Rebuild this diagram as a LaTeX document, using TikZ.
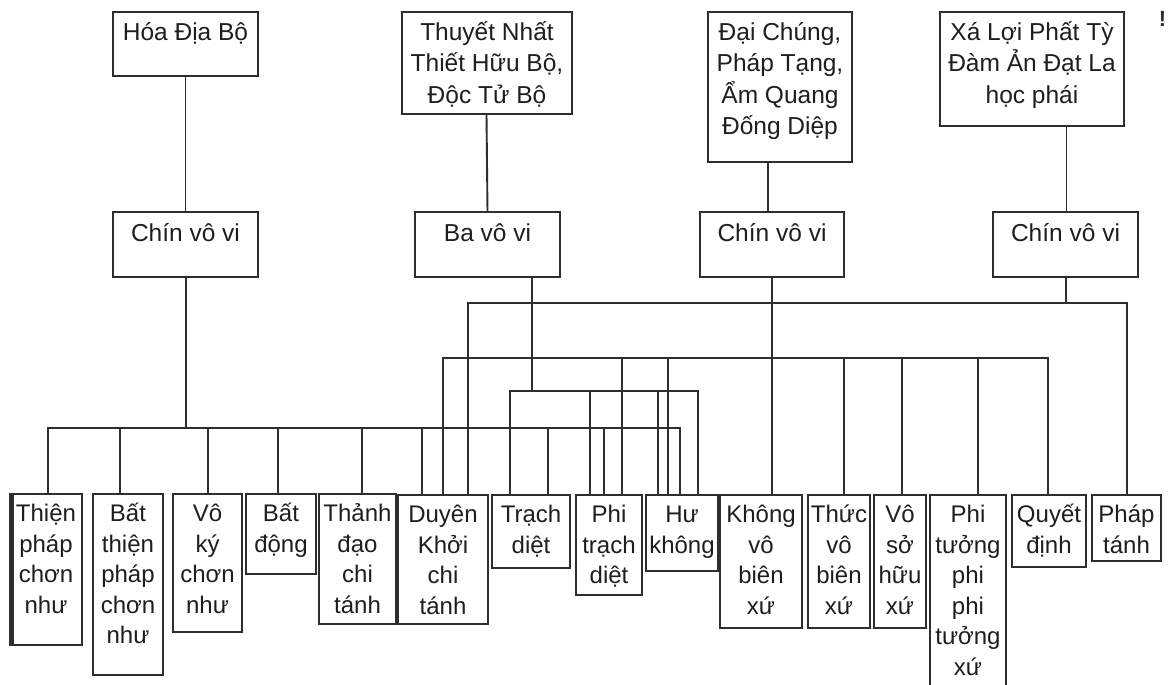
\documentclass[tikz,border=0pt]{standalone}
\usepackage{fontspec}
\setmainfont{Liberation Sans}
\definecolor{ln}{HTML}{2E2E2E}
\definecolor{tx}{HTML}{1E1E1E}
\newcommand\topfnt{\fontsize{24.5}{31.5}\selectfont}
\newcommand\botfnt{\fontsize{24}{30.5}\selectfont}
\begin{document}
\begin{tikzpicture}[x=1pt,y=-1pt,
  box/.style={draw=ln, line width=1.9pt, inner sep=0pt, outer sep=0pt, anchor=north west},
  ttxt/.style={anchor=north, align=center, inner sep=0pt, text=tx, font=\topfnt},
  btxt/.style={anchor=north, align=center, inner sep=0pt, text=tx, font=\botfnt},
  conn/.style={draw=ln, line width=1.9pt, line cap=rect}]
\path[use as bounding box, clip] (0,0) rectangle (1171,685);
\fill[white] (0,0) rectangle (1171,685);

% ---------- top boxes ----------
\node[box, minimum width=145pt, minimum height=64pt]  (hoa)    at (113,12) {};
\node[box, minimum width=170pt, minimum height=102pt] (thuyet) at (402,12) {};
\node[box, minimum width=144pt, minimum height=150pt] (dai)    at (708,12) {};
\node[box, minimum width=184pt, minimum height=114pt] (xa)     at (940,12) {};
\node[ttxt] (hoa-t)    at ([yshift=-6pt]hoa.north)    {\strut Hóa Địa Bộ};
\node[ttxt] (thuyet-t) at ([yshift=-6pt]thuyet.north) {\strut Thuyết Nhất\\Thiết Hữu Bộ,\\Độc Tử Bộ};
\node[ttxt] (dai-t)    at ([yshift=-6pt]dai.north)    {\strut Đại Chúng,\\Pháp Tạng,\\Ẩm Quang\\Đống Diệp};
\node[ttxt] (xa-t)     at ([yshift=-6pt]xa.north)     {\strut Xá Lợi Phất Tỳ\\Đàm Ản Đạt La\\học phái};
\node[anchor=center, inner sep=0pt, text=ln, font=\bfseries\fontsize{22}{22}\selectfont] (bang) at (1162.5,19) {!};

% ---------- middle boxes ----------
\node[box, minimum width=145pt, minimum height=65pt] (chin1) at (113,212) {};
\node[box, minimum width=145pt, minimum height=65pt] (ba)    at (415,212) {};
\node[box, minimum width=144pt, minimum height=65pt] (chin2) at (700,212) {};
\node[box, minimum width=145pt, minimum height=65pt] (chin3) at (993,212) {};
\node[ttxt] (chin1-t) at ([yshift=-7pt]chin1.north) {\strut Chín vô vi};
\node[ttxt] (ba-t)    at ([yshift=-7pt]ba.north)    {\strut Ba vô vi};
\node[ttxt] (chin2-t) at ([yshift=-7pt]chin2.north) {\strut Chín vô vi};
\node[ttxt] (chin3-t) at ([yshift=-7pt]chin3.north) {\strut Chín vô vi};

% ---------- bottom boxes ----------
\node[box, minimum width=72pt, minimum height=151pt] (thien)    at (10,494)  {};
\node[box, minimum width=70pt, minimum height=181pt] (batthien) at (93,494)  {};
\node[box, minimum width=69pt, minimum height=138pt] (voky)     at (173,494) {};
\node[box, minimum width=70pt, minimum height=80pt]  (batdong)  at (246,494) {};
\node[box, minimum width=77pt, minimum height=130pt] (thanh)    at (319,494) {};
\node[box, minimum width=90pt, minimum height=129pt] (duyen)    at (398,495) {};
\node[box, minimum width=78pt, minimum height=73pt]  (trach)    at (492,495) {};
\node[box, minimum width=66pt, minimum height=100pt] (phitrach) at (576,495) {};
\node[box, minimum width=72pt, minimum height=76pt]  (hukhong)  at (646,495) {};
\node[box, minimum width=82pt, minimum height=133pt] (khong)    at (720,495) {};
\node[box, minimum width=62pt, minimum height=133pt] (thuc)     at (808,495) {};
\node[box, minimum width=52pt, minimum height=133pt] (voso)     at (874,495) {};
\node[box, minimum width=76pt, minimum height=210pt] (phituong) at (930,495) {};
\node[box, minimum width=74pt, minimum height=72pt]  (quyet)    at (1012,495) {};
\node[box, minimum width=69pt, minimum height=66pt]  (phaptanh) at (1092,495) {};
\draw[draw=ln, line width=4pt] ([xshift=1.6pt]thien.north west) -- ([xshift=1.6pt]thien.south west);

\node[btxt] (thien-t)    at ([yshift=-6pt]thien.north)    {\strut Thiện\\pháp\\chơn\\như};
\node[btxt] (batthien-t) at ([yshift=-6pt]batthien.north) {\strut Bất\\thiện\\pháp\\chơn\\như};
\node[btxt] (voky-t)     at ([yshift=-6pt]voky.north)     {\strut Vô\\ký\\chơn\\như};
\node[btxt] (batdong-t)  at ([yshift=-6pt]batdong.north)  {\strut Bất\\động};
\node[btxt] (thanh-t)    at ([yshift=-6pt]thanh.north)    {\strut Thảnh\\đạo\\chi\\tánh};
\node[btxt] (duyen-t)    at ([yshift=-6pt]duyen.north)    {\strut Duyên\\Khởi\\chi\\tánh};
\node[btxt] (trach-t)    at ([yshift=-6pt]trach.north)    {\strut Trạch\\diệt};
\node[btxt] (phitrach-t) at ([yshift=-6pt]phitrach.north) {\strut Phi\\trạch\\diệt};
\node[btxt] (hukhong-t)  at ([yshift=-6pt]hukhong.north)  {\strut Hư\\không};
\node[btxt] (khong-t)    at ([yshift=-6pt]khong.north)    {\strut Không\\vô\\biên\\xứ};
\node[btxt] (thuc-t)     at ([yshift=-6pt]thuc.north)     {\strut Thức\\vô\\biên\\xứ};
\node[btxt] (voso-t)     at ([yshift=-6pt]voso.north)     {\strut Vô\\sở\\hữu\\xứ};
\node[btxt] (phituong-t) at ([yshift=-6pt]phituong.north) {\strut Phi\\tưởng\\phi\\phi\\tưởng\\xứ};
\node[btxt] (quyet-t)    at ([yshift=-6pt]quyet.north)    {\strut Quyết\\định};
\node[btxt] (phaptanh-t) at ([yshift=-6pt]phaptanh.north) {\strut Pháp\\tánh};

% ---------- top -> middle ----------
\draw[conn] (hoa.south) -- (chin1.north);
\draw[conn] (thuyet.south -| 486.5,0) -- (487,163) -- (ba.north -| 487.5,0);
\draw[conn] (dai.south -| 768,0) -- (chin2.north -| 768,0);
\draw[conn] (xa.south -| 1066.5,0) -- (chin3.north -| 1066.5,0);

% ---------- buses ----------
\coordinate (bD) at (0,303);
\coordinate (bC) at (0,358);
\coordinate (bB) at (0,391);
\coordinate (bA) at (0,428);

% bus A (Chin vo vi, Hoa Dia Bo)
\draw[conn] (chin1.south -| 186,0) -- (bA -| 186,0);
\draw[conn] (bA -| 48,0) -- (bA -| 680,0);
\foreach \x/\n in {48/thien,120/batthien,208/voky,278/batdong,362/thanh,422/duyen,548/trach,604/phitrach,680/hukhong}
  \draw[conn] (bA -| \x,0) -- (\n.north -| \x,0);

% bus D (Chin vo vi, Xa Loi Phat)
\draw[conn] (chin3.south -| 1066,0) -- (bD -| 1066,0);
\draw[conn] (bD -| 468,0) -- (bD -| 1127,0);
\foreach \x/\n in {468/duyen,1127/phaptanh}
  \draw[conn] (bD -| \x,0) -- (\n.north -| \x,0);

% bus C (Chin vo vi, Dai Chung)
\draw[conn] (chin2.south -| 772,0) -- (khong.north -| 772,0);
\draw[conn] (bC -| 443,0) -- (bC -| 1048,0);
\foreach \x/\n in {443/duyen,622/phitrach,668/hukhong,844/thuc,902/voso,978/phituong,1048/quyet}
  \draw[conn] (bC -| \x,0) -- (\n.north -| \x,0);

% bus B (Ba vo vi)
\draw[conn] (ba.south -| 532,0) -- (bB -| 532,0);
\draw[conn] (bB -| 510,0) -- (bB -| 698,0);
\foreach \x/\n in {510/trach,590/phitrach,658/hukhong,698/hukhong}
  \draw[conn] (bB -| \x,0) -- (\n.north -| \x,0);
\end{tikzpicture}
\end{document}
